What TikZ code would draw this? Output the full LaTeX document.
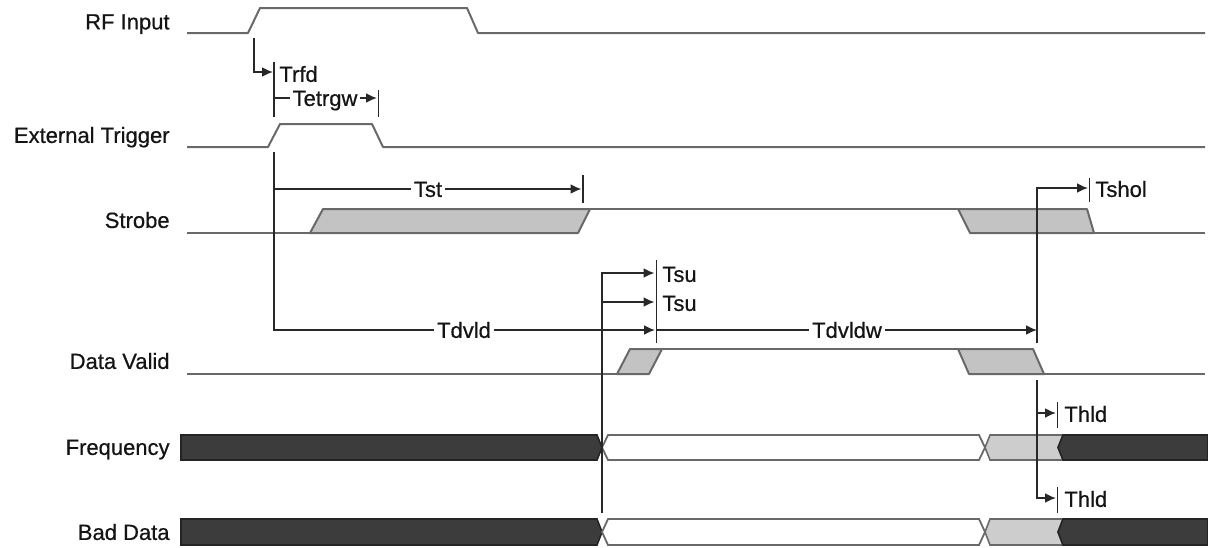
\documentclass[tikz,border=0pt]{standalone}
\usepackage{fontspec}
\setmainfont{Liberation Sans}
\newfontfamily\lblfont{Liberation Sans}[FakeBold=0.6]
\usetikzlibrary{arrows.meta}
\definecolor{sigc}{RGB}{105,105,105}
\definecolor{arrc}{RGB}{40,40,40}
\definecolor{txtc}{RGB}{20,20,20}
\definecolor{darkbus}{RGB}{60,60,60}
\definecolor{lightbus}{RGB}{205,205,205}
\definecolor{hatchc}{RGB}{195,195,195}
\begin{document}
\begin{tikzpicture}[x=0.5pt,y=-0.5pt,
  sig/.style={draw=sigc,line width=1pt,line join=round},
  meas/.style={draw=arrc,line width=0.8pt},
  arr/.style={meas,-{Latex[length=5.4pt,width=4.8pt]}},
  lbl/.style={text=txtc,font=\lblfont\fontsize{11}{13}\selectfont,inner sep=0pt,text height=7.9pt,text depth=0pt},
  siglbl/.style={lbl,anchor=east},
  tlbl/.style={lbl,anchor=west},
  midlbl/.style={lbl,fill=white,inner xsep=1.5pt},
  unc/.style={sig,fill=hatchc},
  darkb/.style={draw=darkbus!60!black,fill=darkbus,line width=0.8pt},
  lightb/.style={draw=sigc,fill=lightbus,line width=0.8pt},
  whiteb/.style={draw=sigc,fill=white,line width=0.9pt}]

\useasboundingbox (0,0) rectangle (1208,547);

% signal names
\node[siglbl] (lRF) at (170,21.5) {RF Input};
\node[siglbl] (lET) at (170,135) {External Trigger};
\node[siglbl] (lST) at (170,220) {Strobe};
\node[siglbl] (lDV) at (170,361) {Data Valid};
\node[siglbl] (lFR) at (170,447) {Frequency};
\node[siglbl] (lBD) at (170,532) {Bad Data};

% RF Input
\draw[sig] (187,33) -- (248,33) -- (260,8) -- (467,8) -- (478,33) -- (1205,33);
% External Trigger
\draw[sig] (187,147) -- (268,147) -- (280,124) -- (372,124) -- (383,147) -- (1205,147);
% Strobe
\draw[sig] (187,233) -- (310,233);
\draw[unc] (310,233) -- (323,209) -- (590,209) -- (578,233) -- cycle;
\draw[sig] (590,209) -- (958,209);
\draw[unc] (958,209) -- (1087,209) -- (1094,233) -- (970,233) -- cycle;
\draw[sig] (1094,233) -- (1205,233);
% Data Valid
\draw[sig] (187,374) -- (617,374);
\draw[unc] (617,374) -- (630,349) -- (662,349) -- (649,374) -- cycle;
\draw[sig] (662,349) -- (958,349);
\draw[unc] (958,349) -- (1033,349) -- (1044,374) -- (969,374) -- cycle;
\draw[sig] (1044,374) -- (1205,374);

% Frequency bus
\draw[darkb] (181,435) -- (597,435) -- (602,447.5) -- (597,460) -- (181,460) -- cycle;
\draw[whiteb] (602,447.5) -- (608,435) -- (979,435) -- (985,447.5) -- (979,460) -- (608,460) -- cycle;
\draw[lightb] (985,447.5) -- (990,435) -- (1063,435) -- (1058,447.5) -- (1063,460) -- (990,460) -- cycle;
\draw[darkb] (1058,447.5) -- (1063,435) -- (1208,435) -- (1208,460) -- (1063,460) -- cycle;
% Bad Data bus
\draw[darkb] (181,519) -- (597,519) -- (602,532) -- (597,545) -- (181,545) -- cycle;
\draw[whiteb] (602,532) -- (608,519) -- (979,519) -- (985,532) -- (979,545) -- (608,545) -- cycle;
\draw[lightb] (985,532) -- (990,519) -- (1063,519) -- (1058,532) -- (1063,545) -- (990,545) -- cycle;
\draw[darkb] (1058,532) -- (1063,519) -- (1208,519) -- (1208,545) -- (1063,545) -- cycle;

% reference points
\coordinate (rfEdge) at (254,38);
\coordinate (trfdEnd) at (273,72);
\coordinate (etA) at (274,62);
\coordinate (etB) at (274,117);
\coordinate (etgEnd) at (377,98);
\coordinate (etgT1) at (378.5,90);
\coordinate (etgT2) at (378.5,117);
\coordinate (etTop) at (274,152);
\coordinate (tstEnd) at (581.5,189);
\coordinate (tstT1) at (583,175);
\coordinate (tstT2) at (583,203);
\coordinate (tdvEnd) at (655,330);
\coordinate (suBot) at (602,513);
\coordinate (suTop) at (602,273);
\coordinate (su2) at (602,302);
\coordinate (suT1) at (656.5,260);
\coordinate (suT2) at (656.5,343);
\coordinate (dwEnd) at (1037,330);
\coordinate (hoBot) at (1037,343);
\coordinate (hoEnd) at (1088,188);
\coordinate (hoT1) at (1089.5,178);
\coordinate (hoT2) at (1089.5,202);
\coordinate (hlTop) at (1037,380);
\coordinate (hlBot) at (1037,498);
\coordinate (hlT1) at (1057.5,402);
\coordinate (hlT2) at (1057.5,428);
\coordinate (hlT3) at (1057.5,487);
\coordinate (hlT4) at (1057.5,513);

% Trfd
\draw[arr] (rfEdge) |- (trfdEnd);
\draw[meas] (etA) -- (etB);
\node[tlbl] (tTrfd) at (279,74) {Trfd};
% Tetrgw
\draw[arr] (274,98) -- (etgEnd);
\draw[meas] (etgT1) -- (etgT2);
\node[midlbl] (tTetrgw) at (325,98) {Tetrgw};
% Tst / Tdvld
\draw[arr] (etTop) |- (tdvEnd);
\draw[arr] (274,189) -- (tstEnd);
\draw[meas] (tstT1) -- (tstT2);
\node[midlbl] (tTst) at (428,189) {Tst};
\node[midlbl] (tTdvld) at (464,330) {Tdvld};
% Tsu
\draw[arr] (suBot) |- (654.5,273);
\draw[arr] (su2) -- (654.5,302);
\draw[meas] (suT1) -- (suT2);
\node[tlbl] (tTsu1) at (662,274) {Tsu};
\node[tlbl] (tTsu2) at (662,303) {Tsu};
% Tdvldw
\draw[arr] (656.5,330) -- (dwEnd);
\node[midlbl] (tTdvldw) at (847,330) {Tdvldw};
% Tshol
\draw[arr] (hoBot) |- (hoEnd);
\draw[meas] (hoT1) -- (hoT2);
\node[tlbl] (tTshol) at (1095,189) {Tshol};
% Thld
\draw[arr] (hlTop) |- (1056,498);
\draw[arr] (1037,413) -- (1056,413);
\draw[meas] (hlT1) -- (hlT2);
\draw[meas] (hlT3) -- (hlT4);
\node[tlbl] (tThld1) at (1064,414) {Thld};
\node[tlbl] (tThld2) at (1064,499) {Thld};
\end{tikzpicture}
\end{document}
